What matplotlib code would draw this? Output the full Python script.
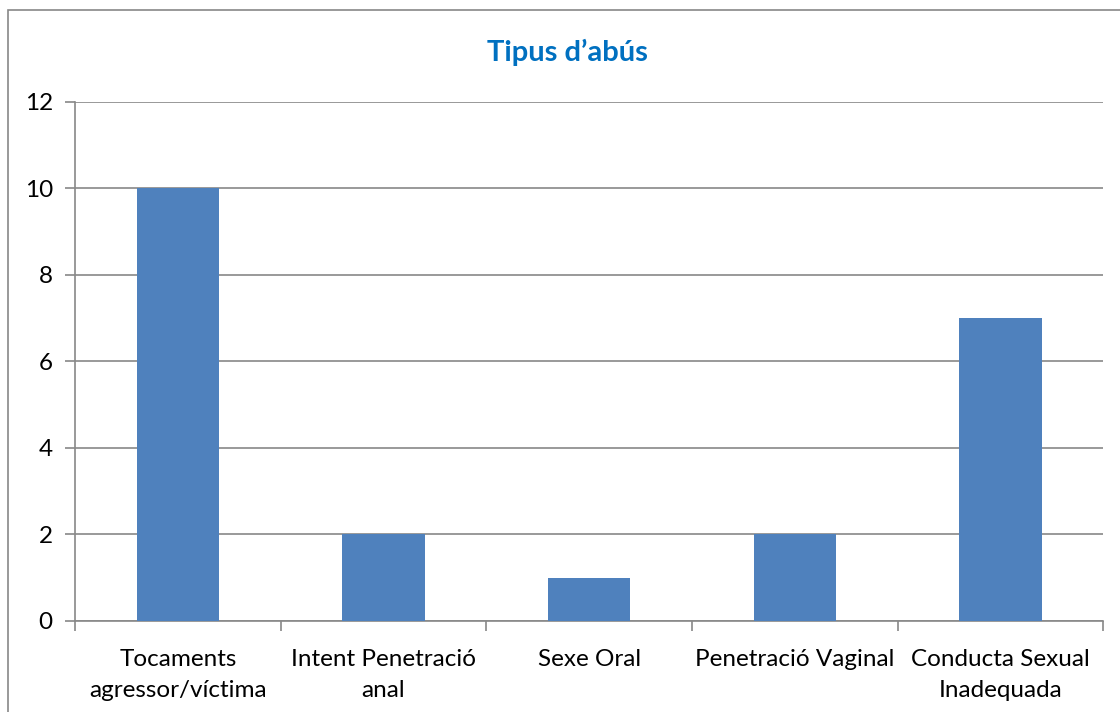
import matplotlib.pyplot as plt
import matplotlib.patches as patches
import numpy as np

# Data
categories = ['Tocaments\nagressor/víctima', 'Intent Penetració\nanal', 'Sexe Oral',
              'Penetració Vaginal', 'Conducta Sexual\nInadequada']
values = [10, 2, 1, 2, 7]
y_ticks = [0, 2, 4, 6, 8, 10, 12]

plt.rcParams['font.family'] = ['Lato', 'DejaVu Sans']

fig = plt.figure(figsize=(11.2, 7.12), dpi=100)
ax = fig.add_axes([0.067, 0.128, 0.918, 0.729])

x = np.arange(len(categories))
ax.bar(x, values, width=0.4, color='#4F81BD', zorder=3)

ax.set_xlim(-0.5, len(categories) - 0.5)
ax.set_ylim(0, 12)
ax.set_yticks(y_ticks)
ax.set_xticks(x)
ax.set_xticklabels(categories, fontsize=17.5, linespacing=1.6)
ax.set_xticks(np.arange(-0.5, len(categories)), minor=True)
ax.tick_params(axis='x', which='major', length=0, pad=20)
ax.tick_params(axis='x', which='minor', length=7, color='#888888', width=1.2)
ax.tick_params(axis='y', length=7, color='#888888', width=1.2, labelsize=17.5, pad=9)

ax.grid(axis='y', color='#888888', linewidth=1.2, zorder=0)
for side in ['top', 'right']:
    ax.spines[side].set_visible(False)
for side in ['left', 'bottom']:
    ax.spines[side].set_color('#888888')
    ax.spines[side].set_linewidth(1.2)

fig.text(0.507, 0.927, 'Tipus d\u2019abús', ha='center', va='center',
         fontsize=21, fontweight='bold', color='#0070C0')

# outer chart frame
fig.patches.append(patches.Rectangle((0.007, -0.1), 1.1, 1.086, transform=fig.transFigure,
                                     fill=False, edgecolor='#888888', linewidth=1.2))

fig.savefig('out.png', dpi=100)
